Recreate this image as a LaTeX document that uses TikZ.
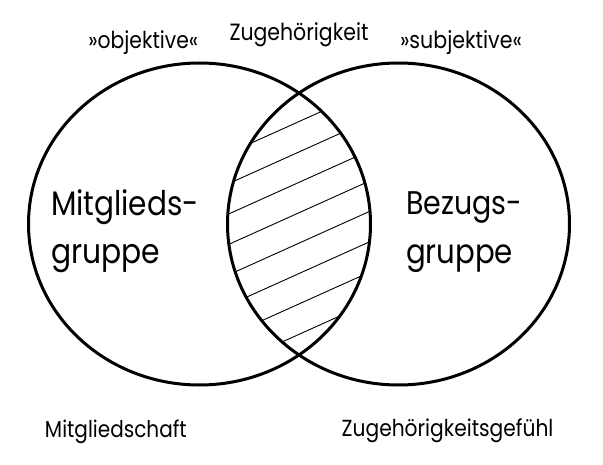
\documentclass[tikz,border=0pt]{standalone}
\usepackage{fontspec}
\setmainfont{Poppins}
\newcommand{\fitw}[3]{\scalebox{1}[#2]{\resizebox{#1}{!}{#3}}}
\begin{document}
\begin{tikzpicture}[x=1pt,y=-1pt,
  lbl/.style={anchor=base west,inner sep=0pt,outer sep=0pt},
  ring/.style={line width=3pt},
  hatchline/.style={line width=0.9pt}]
\useasboundingbox (0,0) rectangle (603,465);
\fill[white] (0,0) rectangle (603,465);
% hatching of the intersection
\begin{scope}
  \clip (199.5,224) ellipse [x radius=171, y radius=161];
  \clip (398.5,224) ellipse [x radius=171, y radius=161];
  \foreach \k in {0,...,7} {
    \pgfmathsetmacro\yy{227.5+(\k-3.5)*30.4}
    \draw[hatchline] (180,{\yy+54}) -- (420,{\yy-54});
  }
\end{scope}
% circles
\draw[ring] (199.5,224) ellipse [x radius=171, y radius=161];
\draw[ring] (398.5,224) ellipse [x radius=171, y radius=161];
% labels
\node[lbl] (objL) at (88.3,48.3) {\fitw{110pt}{1.15}{»objektive«}};
\node[lbl] (zug) at (229.5,41) {\fitw{139pt}{1.15}{Zugehörigkeit}};
\node[lbl] (subR) at (400,48.5) {\fitw{122pt}{1.15}{»subjektive«}};
\node[lbl] (mitL1) at (51,215.5) {\fitw{148pt}{1.15}{Mitglieds-}};
\node[lbl] (mitL2) at (51,263.3) {\fitw{109pt}{1.15}{gruppe}};
\node[lbl] (bezR1) at (406,215) {\fitw{116pt}{1.15}{Bezugs-}};
\node[lbl] (bezR2) at (406,263.3) {\fitw{107pt}{1.15}{gruppe}};
\node[lbl] (mitsch) at (45,437) {\fitw{141.7pt}{1.15}{Mitgliedschaft}};
\node[lbl] (zgf) at (341.7,436.7) {\fitw{211.7pt}{1.15}{Zugehörigkeitsgefühl}};
\end{tikzpicture}
\end{document}
